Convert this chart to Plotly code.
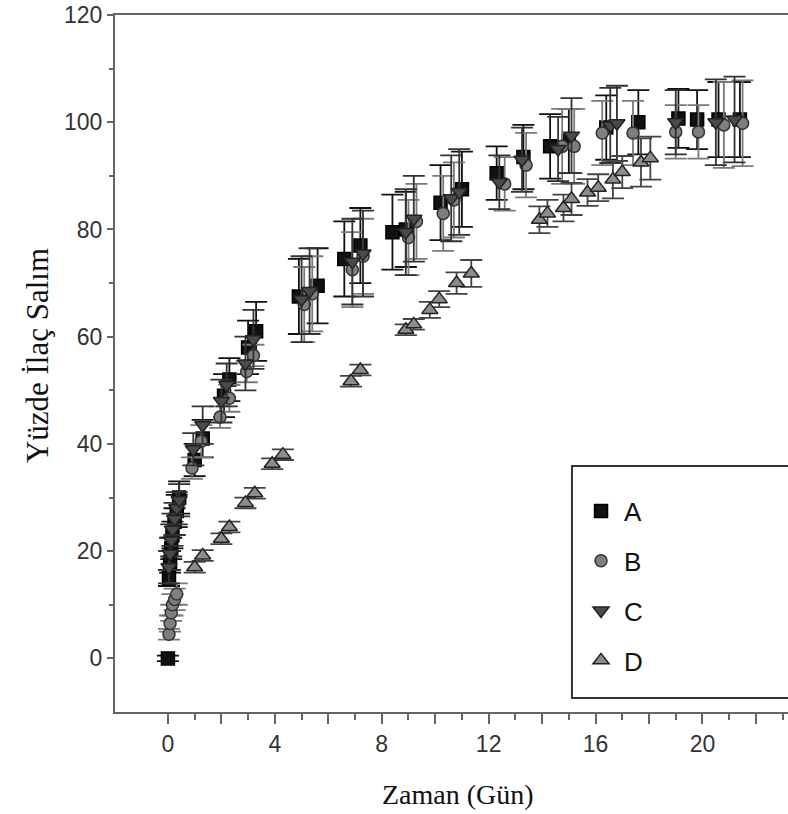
import plotly.graph_objects as go

# ---- data ----
A_t = [0, 0.04, 0.08, 0.125, 0.17, 0.25, 0.33, 0.42, 1.0, 1.3, 2.1, 2.3, 3.0, 3.3, 4.9, 5.6, 6.6, 7.2, 8.4, 8.9, 10.2, 11.0, 12.3, 13.3, 14.3, 15.0, 16.4, 17.6, 19.1, 19.8, 20.6, 21.4]
A_y = [0, 15, 18, 20.5, 23, 25.5, 27.5, 30, 37, 41, 49, 52, 58, 61, 67.5, 69.5, 74.5, 77, 79.5, 80, 85, 87.5, 90.5, 93.5, 95.5, 96.5, 99, 100, 100.7, 100.5, 100.5, 100.5]
A_e = [0.5, 1.5, 2, 2, 2.5, 2.5, 3, 3, 3, 3.5, 4, 4, 5, 5.5, 7, 7, 7, 7, 7, 7, 7, 7, 5, 6, 6, 6, 6, 6, 5.5, 5.5, 7, 7]

B_t = [0.04, 0.08, 0.125, 0.17, 0.25, 0.33, 0.9, 1.25, 1.95, 2.3, 2.95, 3.2, 5.1, 5.4, 6.9, 7.3, 9.0, 9.3, 10.3, 10.7, 12.6, 13.4, 14.75, 15.2, 16.25, 17.4, 19.0, 19.85, 20.8, 21.5]
B_y = [4.5, 6.5, 8.5, 10, 11, 12, 35.5, 40.5, 45, 48.5, 53.5, 56.5, 66, 68, 72.5, 75, 78.5, 81.5, 83, 85.5, 88.5, 92, 95.5, 95.5, 98, 98, 98.2, 98.2, 99.5, 99.8]
B_e = [1, 1.5, 1.5, 2, 2, 2, 2, 3, 2, 2.5, 2, 2, 7, 7, 7, 7, 7, 7, 7, 7, 5, 6, 7, 7, 6, 6, 5, 5, 8, 8]

C_t = [0.04, 0.08, 0.125, 0.17, 0.25, 0.33, 0.42, 0.95, 1.3, 2.0, 2.2, 2.9, 3.2, 5.0, 5.3, 6.9, 7.3, 8.9, 9.2, 10.6, 10.9, 12.4, 13.25, 14.6, 15.1, 16.55, 16.8, 19.0, 20.5, 21.2]
C_y = [17, 19.5, 22, 24, 26, 28, 29.5, 39, 43.5, 48, 51, 55, 59.5, 67, 68.5, 74, 75.5, 79.5, 82, 85.8, 87, 88.8, 93, 95, 97.5, 99.4, 99.8, 100, 100, 100.5]
C_e = [3, 3, 3, 3, 3, 3, 3, 3, 3.5, 4, 4, 5, 5.5, 8, 8, 8, 8, 8, 8, 8, 8, 5, 6, 6, 7, 7, 7, 6, 8, 8]

D_t = [1.0, 1.3, 2.0, 2.3, 2.9, 3.25, 3.9, 4.3, 6.85, 7.2, 8.9, 9.2, 9.8, 10.15, 10.8, 11.35, 13.9, 14.2, 14.8, 15.1, 15.7, 16.1, 16.65, 17.0, 17.7, 18.05]
D_y = [17, 19.2, 22.3, 24.5, 29, 30.8, 36.3, 38, 51.7, 53.8, 61.3, 62.3, 65, 67, 70, 71.8, 81.8, 83, 84, 85.7, 86.9, 87.8, 89.3, 90.7, 92.5, 93.3]
D_e = [1, 1, 1, 1, 1, 1, 1, 1, 1, 1, 1, 1, 1.5, 1.5, 2, 2.5, 2.5, 2.5, 2.5, 3, 2.5, 2.5, 3.5, 3, 4.5, 4]

names = ["A", "B", "C", "D"]
x_tickvals = [0, 2, 4, 6, 8, 10, 12, 14, 16, 18, 20, 22]
x_ticktext = ["0", "", "4", "", "8", "", "12", "", "16", "", "20", ""]
x_minorvals = [1, 3, 5, 7, 9, 11, 13, 15, 17, 19, 21, 23]
y_tickvals = [0, 20, 40, 60, 80, 100, 120]
y_minorvals = [10, 30, 50, 70, 90, 110]

series = [
    (A_t, A_y, A_e, "square", 13, "#111111", "#000000", "#111111"),
    (B_t, B_y, B_e, "circle", 12, "#7f7f7f", "#333333", "#7a7a7a"),
    (C_t, C_y, C_e, "triangle-down", 14, "#4a4a4a", "#222222", "#333333"),
    (D_t, D_y, D_e, "triangle-up", 14, "#8c8c8c", "#222222", "#444444"),
]

fig = go.Figure()
for name, (t, y, e, sym, sz, fill, line, ecol) in zip(names, series):
    fig.add_trace(go.Scatter(
        x=t, y=y, mode="markers", name=name, legendgroup=name,
        marker=dict(symbol=sym, size=sz, color=fill, line=dict(color=line, width=1.5)),
        error_y=dict(type="data", array=e, visible=True, color=ecol, thickness=1.8, width=11),
    ))

axis_col = "#666666"
fig.update_layout(
    width=788, height=814,
    margin=dict(l=115, r=0, t=15, b=102),
    paper_bgcolor="white", plot_bgcolor="white",
    showlegend=True,
    legend=dict(x=0.688, y=0.322, xanchor="left", yanchor="top",
                bgcolor="rgba(0,0,0,0)", borderwidth=0,
                font=dict(family="Liberation Sans, Arial", size=26, color="#111111"),
                tracegroupgap=13, itemwidth=36),
    xaxis=dict(range=[-1.98, 23.2], showgrid=False, zeroline=False,
               showline=True, linecolor=axis_col, linewidth=2, mirror=True,
               tickmode="array", tickvals=x_tickvals, ticktext=x_ticktext,
               ticks="outside", ticklen=10, tickwidth=2, tickcolor=axis_col,
               minor=dict(tickmode="array", tickvals=x_minorvals, ticks="outside", ticklen=6,
                          tickwidth=1.5, tickcolor=axis_col),
               tickfont=dict(family="Liberation Sans, Arial", size=23, color="#333333")),
    yaxis=dict(range=[-10, 120], showgrid=False, zeroline=False,
               showline=True, linecolor=axis_col, linewidth=2, mirror=False,
               tickmode="array", tickvals=y_tickvals,
               ticks="outside", ticklen=6, tickwidth=2, tickcolor=axis_col,
               minor=dict(tickmode="array", tickvals=y_minorvals, ticks="outside", ticklen=4,
                          tickwidth=1.5, tickcolor=axis_col),
               tickfont=dict(family="Liberation Sans, Arial", size=23, color="#333333")),
    shapes=[dict(type="rect", xref="paper", yref="paper", x0=0.679, x1=1.05, y0=0.02, y1=0.353,
                 line=dict(color="#333333", width=2), fillcolor="rgba(0,0,0,0)", layer="above")],
    annotations=[
        dict(text="Yüzde İlaç Salım", xref="paper", yref="paper", x=-0.114, y=0.511,
             xanchor="center", yanchor="middle", textangle=-90, showarrow=False,
             font=dict(family="Liberation Serif, Times New Roman", size=31, color="#111111")),
        dict(text="Zaman (Gün)", xref="paper", yref="paper", x=0.51, y=-0.119,
             xanchor="center", yanchor="middle", showarrow=False,
             font=dict(family="Liberation Serif, Times New Roman", size=28, color="#111111")),
    ],
)

fig.write_html("out.html")
